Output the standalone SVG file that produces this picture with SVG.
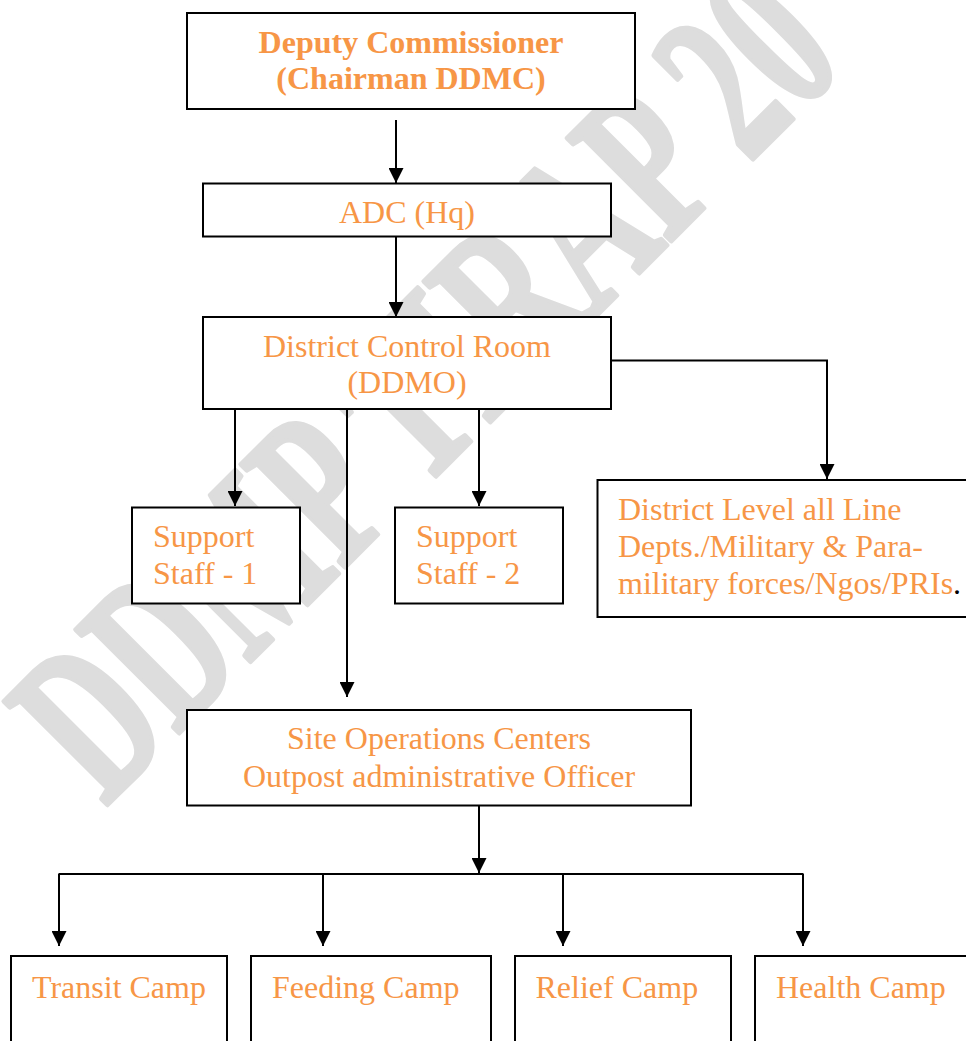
<svg xmlns="http://www.w3.org/2000/svg" width="966" height="1041" viewBox="0 0 966 1041">
<style>
.box{fill:#ffffff;stroke:#000000;stroke-width:2}
.t{font-family:"Liberation Serif","Times New Roman",serif;font-size:32px;fill:#F79646}
.b{font-weight:bold}
.c{text-anchor:middle}
.ln{fill:none;stroke:#000000;stroke-width:2}
.wm{font-family:"Liberation Serif","Times New Roman",serif;font-weight:bold;font-size:223px;fill:#dddddd;stroke:#dddddd;stroke-width:5;stroke-linejoin:round}
</style>
<defs>
<marker id="ah" viewBox="0 0 15 15" refX="15" refY="7.5" markerWidth="15" markerHeight="15" markerUnits="userSpaceOnUse" orient="auto">
<path d="M0,0 L15,7.5 L0,15 Z" fill="#000000"/>
</marker>
</defs>
<rect x="0" y="0" width="966" height="1041" fill="#ffffff"/>
<g id="watermark">
<text class="wm" transform="translate(105,807) rotate(-45)" x="0" y="0" textLength="1050" lengthAdjust="spacingAndGlyphs">DDMP TIRAP 20</text>
</g>
<g id="connectors">
<line class="ln" x1="396" y1="120" x2="396" y2="183" marker-end="url(#ah)"/>
<line class="ln" x1="396" y1="237" x2="396" y2="317" marker-end="url(#ah)"/>
<line class="ln" x1="235" y1="409" x2="235" y2="506" marker-end="url(#ah)"/>
<line class="ln" x1="479" y1="409" x2="479" y2="506" marker-end="url(#ah)"/>
<line class="ln" x1="347" y1="409" x2="347" y2="697" marker-end="url(#ah)"/>
<polyline class="ln" points="611,360.5 827,360.5 827,479" marker-end="url(#ah)"/>
<line class="ln" x1="479" y1="806" x2="479" y2="873" marker-end="url(#ah)"/>
<line class="ln" x1="58.5" y1="874" x2="803.5" y2="874"/>
<line class="ln" x1="59" y1="874" x2="59" y2="946" marker-end="url(#ah)"/>
<line class="ln" x1="323" y1="874" x2="323" y2="946" marker-end="url(#ah)"/>
<line class="ln" x1="563" y1="874" x2="563" y2="946" marker-end="url(#ah)"/>
<line class="ln" x1="803" y1="874" x2="803" y2="946" marker-end="url(#ah)"/>
</g>
<g id="deputy-commissioner">
<rect class="box" x="187" y="13" width="448" height="96"/>
<text class="t b c" x="411" y="53">Deputy Commissioner</text>
<text class="t b c" x="411" y="89">(Chairman DDMC)</text>
</g>
<g id="adc-hq">
<rect class="box" x="203" y="183.5" width="408" height="53"/>
<text class="t c" x="407" y="222.5">ADC (Hq)</text>
</g>
<g id="district-control-room">
<rect class="box" x="203" y="317" width="408" height="92"/>
<text class="t c" x="407" y="356.5">District Control Room</text>
<text class="t c" x="407" y="393">(DDMO)</text>
</g>
<g id="support-staff-1">
<rect class="box" x="132" y="507.5" width="168" height="96"/>
<text class="t" x="153" y="546.5">Support</text>
<text class="t" x="153" y="584">Staff - 1</text>
</g>
<g id="support-staff-2">
<rect class="box" x="395" y="507.5" width="168" height="96"/>
<text class="t" x="416" y="546.5">Support</text>
<text class="t" x="416" y="584">Staff - 2</text>
</g>
<g id="district-level">
<rect class="box" x="597.5" y="480" width="380" height="137"/>
<text class="t" x="618" y="519.5">District Level all Line</text>
<text class="t" x="618" y="557">Depts./Military &amp; Para-</text>
<text class="t" x="618" y="594">military forces/Ngos/PRIs<tspan fill="#000000">.</tspan></text>
</g>
<g id="site-operations">
<rect class="box" x="187" y="710" width="504" height="95.5"/>
<text class="t c" x="439" y="749">Site Operations Centers</text>
<text class="t c" x="439" y="787">Outpost administrative Officer</text>
</g>
<g id="transit-camp">
<rect class="box" x="11" y="956" width="216" height="100"/>
<text class="t" x="32" y="997.5">Transit Camp</text>
</g>
<g id="feeding-camp">
<rect class="box" x="251" y="956" width="240" height="100"/>
<text class="t" x="272" y="997.5">Feeding Camp</text>
</g>
<g id="relief-camp">
<rect class="box" x="515" y="956" width="216" height="100"/>
<text class="t" x="535.5" y="997.5">Relief Camp</text>
</g>
<g id="health-camp">
<rect class="box" x="755" y="956" width="230" height="100"/>
<text class="t" x="776" y="997.5">Health Camp</text>
</g>
</svg>
